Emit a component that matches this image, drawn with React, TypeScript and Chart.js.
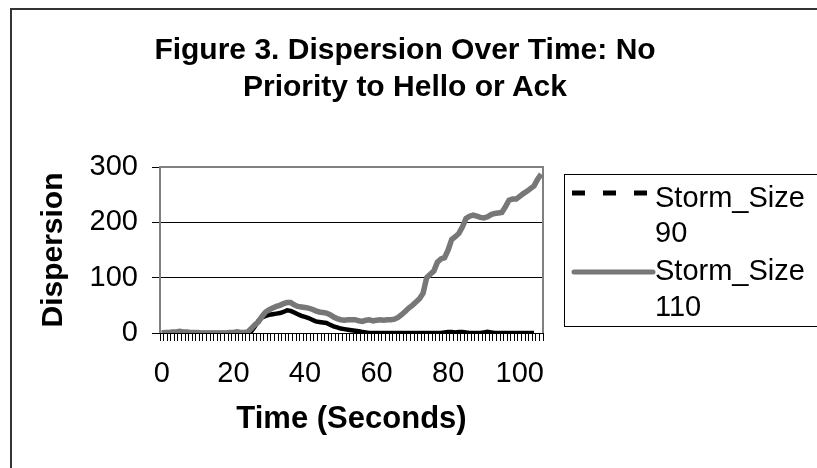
import React, { useEffect, useRef } from "react";
import { Chart, registerables } from "chart.js";

Chart.register(...registerables);

const FONT = "'Liberation Sans', Arial, sans-serif";

const TITLE_LINES = ["Figure 3. Dispersion Over Time: No", "Priority to Hello or Ack"];
const X_TITLE = "Time (Seconds)";
const Y_TITLE = "Dispersion";
const SERIES_NAMES = ["Storm_Size 90", "Storm_Size 110"];

// categories: time in seconds (0..106)
const TIME: number[] = Array.from({ length: 107 }, (_, i) => i);
const X_TICK_LABELS = [0, 20, 40, 60, 80, 100];
const Y_MIN = 0;
const Y_MAX = 300;
const Y_STEP = 100;

const STORM_90 = [
  0, 0, 0, 1, 1, 0, 0, 0, 0, 0, 0, 0, 0, 0, 0, 0, 0, 0, 0, 0, 0, 0, 0, 0, 0,
  3, 12, 22, 28, 31, 33, 34, 35, 36, 38, 41, 40, 37, 34, 31, 29, 27, 24, 21, 20, 19, 18, 15, 12, 10, 8,
  7, 6, 5, 4, 3, 2, 1, 0, 0, 0, 0, 0, 0, 0, 0,
  0, 0, 0, 0, 0, 0, 0, 0, 0, 0, 0, 0, 0, 1, 2, 2, 1, 2, 2, 1, 0, 0, 0, 0, 1, 2, 1, 0, 0, 0, 0, 0, 0, 0, 0, 0, 0, 0, 0,
];

const STORM_110 = [
  0, 1, 1, 2, 2, 3, 2, 2, 1, 1, 1, 0, 0, 0, 0, 0, 0, 0, 0, 1, 1, 2, 1, 1, 2,
  8, 15, 20, 30, 38, 42, 45, 48, 50, 53, 55, 55, 51, 48, 47, 46, 45, 43, 40, 38, 37, 36, 33, 29, 26, 24,
  23, 24, 24, 24, 22, 21, 23, 24, 22, 23, 24, 23, 24, 24, 25,
  28, 33, 39, 45, 50, 56, 62, 72, 100, 106, 112, 128, 134, 136, 150, 169, 174, 180, 192, 207, 211, 213, 211, 209, 208,
  210, 214, 216, 217, 218, 228, 240, 242, 242, 247, 252, 256, 261, 266, 278, 287,
];

export default function App() {
  const ref = useRef<HTMLCanvasElement>(null);

  useEffect(() => {
    const canvas = ref.current;
    if (!canvas) return;

    const plotBorder = {
      id: "plotBorder",
      beforeDatasetsDraw(chart: any) {
        const { ctx, chartArea: a } = chart;
        ctx.save();
        ctx.strokeStyle = "#808080";
        ctx.lineWidth = 2;
        ctx.beginPath();
        ctx.moveTo(a.left, a.bottom);
        ctx.lineTo(a.left, a.top);
        ctx.lineTo(a.right, a.top);
        ctx.lineTo(a.right, a.bottom);
        ctx.stroke();
        ctx.restore();
      },
    };

    const chart = new Chart(canvas, {
      type: "line",
      data: {
        labels: TIME.map(String),
        datasets: [
          {
            label: SERIES_NAMES[0],
            data: STORM_90,
            borderColor: "#000000",
            borderWidth: 4.5,
            pointRadius: 0,
            tension: 0,
            order: 1,
          },
          {
            label: SERIES_NAMES[1],
            data: STORM_110,
            borderColor: "#777777",
            borderWidth: 5.5,
            pointRadius: 0,
            tension: 0,
            order: 0,
          },
        ],
      },
      options: {
        responsive: false,
        animation: false,
        devicePixelRatio: 1,
        layout: { padding: { left: 0, right: 274, top: 167, bottom: 0 } },
        plugins: {
          legend: { display: false },
          title: { display: false },
          tooltip: { enabled: false },
        },
        scales: {
          x: {
            type: "category",
            offset: true,
            grid: {
              display: true,
              drawOnChartArea: false,
              drawTicks: true,
              tickLength: 8,
              offset: true,
              color: "#000000",
              lineWidth: 1,
            },
            border: { display: true, color: "#000000", width: 1 },
            ticks: {
              autoSkip: false,
              maxRotation: 0,
              minRotation: 0,
              padding: 16,
              color: "#000000",
              font: { family: FONT, size: 29 },
              callback: (_v: any, i: number) =>
                X_TICK_LABELS.includes(TIME[i]) ? String(TIME[i]) : "",
            },
            title: {
              display: true,
              text: X_TITLE,
              color: "#000000",
              font: { family: FONT, size: 31, weight: "bold" },
              padding: { top: 0, bottom: 30 },
            },
            afterFit: (s: any) => {
              s.height = 135;
            },
          },
          y: {
            min: Y_MIN,
            max: Y_MAX,
            grid: {
              color: (c: any) =>
                c.tick && (c.tick.value === Y_MIN || c.tick.value === Y_MAX)
                  ? "rgba(0,0,0,0)"
                  : "#000000",
              tickColor: "#000000",
              tickLength: 8,
              lineWidth: 1,
            },
            border: { display: false },
            ticks: {
              stepSize: Y_STEP,
              padding: 14,
              color: "#000000",
              font: { family: FONT, size: 29 },
            },
            title: {
              display: true,
              text: Y_TITLE,
              color: "#000000",
              font: { family: FONT, size: 30, weight: "bold" },
              padding: { top: 36, bottom: 0 },
            },
            afterFit: (s: any) => {
              s.width = 160;
            },
          },
        },
      },
      plugins: [plotBorder],
    } as any);

    return () => chart.destroy();
  }, []);

  const legendText: React.CSSProperties = {
    position: "absolute",
    left: 655,
    fontFamily: FONT,
    fontSize: 29,
    lineHeight: "36px",
    color: "#000",
    whiteSpace: "nowrap",
  };

  return (
    <div
      style={{
        position: "absolute",
        left: 0,
        top: 0,
        width: 817,
        height: 468,
        overflow: "hidden",
        background: "#ffffff",
      }}
    >
      <div
        style={{
          position: "absolute",
          left: 10,
          top: 8,
          width: 900,
          height: 600,
          borderLeft: "2px solid #333",
          borderTop: "2px solid #333",
        }}
      />
      <canvas
        ref={ref}
        width={817}
        height={468}
        style={{ position: "absolute", left: 0, top: 0, width: 817, height: 468 }}
      />
      <div
        style={{
          position: "absolute",
          left: 5,
          top: 30,
          width: 800,
          textAlign: "center",
          fontFamily: FONT,
          fontWeight: "bold",
          fontSize: 30,
          lineHeight: "37px",
          color: "#000",
        }}
      >
        {TITLE_LINES.map((t) => (
          <div key={t}>{t}</div>
        ))}
      </div>
      <div
        style={{
          position: "absolute",
          left: 564,
          top: 174,
          width: 280,
          height: 153,
          border: "1px solid #000",
          boxSizing: "border-box",
        }}
      />
      <svg
        width={817}
        height={468}
        style={{ position: "absolute", left: 0, top: 0, pointerEvents: "none" }}
      >
        <line x1={572} y1={193} x2={647} y2={193} stroke="#000" strokeWidth={5} strokeDasharray="13 18" />
        <line x1={574} y1={272} x2={653} y2={272} stroke="#777" strokeWidth={5} strokeLinecap="round" />
      </svg>
      <div style={{ ...legendText, top: 179 }}>{SERIES_NAMES[0].split(" ")[0]}</div>
      <div style={{ ...legendText, top: 214 }}>{SERIES_NAMES[0].split(" ")[1]}</div>
      <div style={{ ...legendText, top: 252 }}>{SERIES_NAMES[1].split(" ")[0]}</div>
      <div style={{ ...legendText, top: 288 }}>{SERIES_NAMES[1].split(" ")[1]}</div>
    </div>
  );
}
